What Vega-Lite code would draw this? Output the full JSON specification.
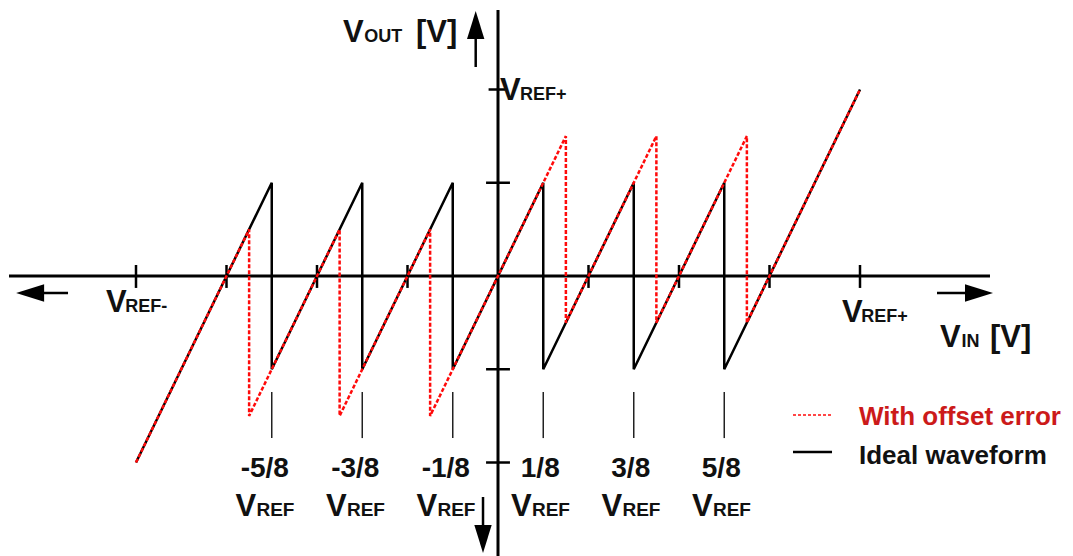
{
  "$schema": "https://vega.github.io/schema/vega-lite/v6.json",
  "width": 1073,
  "height": 556,
  "padding": 0,
  "autosize": {"type": "none"},
  "background": "white",
  "config": {
    "view": {"stroke": null},
    "text": {"font": "Liberation Sans", "fontWeight": "bold", "baseline": "alphabetic"}
  },
  "datasets": {
    "axes": [
      {"x": -1.3508, "x2": 1.3591, "y": 0, "y2": 0},
      {"x": 0, "x2": 0, "y": 1.4263, "y2": -1.52}
    ],
    "ticks": [
      {"x": -1, "x2": -1, "y": 0.059, "y2": -0.064},
      {"x": -0.75, "x2": -0.75, "y": 0.059, "y2": -0.064},
      {"x": -0.5, "x2": -0.5, "y": 0.059, "y2": -0.064},
      {"x": -0.25, "x2": -0.25, "y": 0.059, "y2": -0.064},
      {"x": 0.25, "x2": 0.25, "y": 0.059, "y2": -0.064},
      {"x": 0.5, "x2": 0.5, "y": 0.059, "y2": -0.064},
      {"x": 0.75, "x2": 0.75, "y": 0.059, "y2": -0.064},
      {"x": 1, "x2": 1, "y": 0.059, "y2": -0.064},
      {"x": -0.026, "x2": 0.02, "y": 1, "y2": 1},
      {"x": -0.033, "x2": 0.033, "y": 0.5, "y2": 0.5},
      {"x": -0.033, "x2": 0.033, "y": -0.5, "y2": -0.5},
      {"x": -0.033, "x2": 0.033, "y": -1, "y2": -1}
    ],
    "shafts": [
      {"x": -0.0616, "x2": -0.0616, "y": 1.29, "y2": 1.1206},
      {"x": -0.0414, "x2": -0.0414, "y": -1.185, "y2": -1.36},
      {"x": -1.275, "x2": -1.1878, "y": -0.0912, "y2": -0.0912},
      {"x": 1.2127, "x2": 1.30, "y": -0.0912, "y2": -0.0912}
    ],
    "heads": [
      {"x": -0.0616, "y": 1.3458, "dir": "up"},
      {"x": -0.0414, "y": -1.41, "dir": "down"},
      {"x": -1.2925, "y": -0.0912, "dir": "left"},
      {"x": 1.3287, "y": -0.0912, "dir": "right"}
    ],
    "wave": [
      {"s": "Ideal waveform", "i": 0, "x": -1, "y": -1},
      {"s": "Ideal waveform", "i": 1, "x": -0.625, "y": 0.5},
      {"s": "Ideal waveform", "i": 2, "x": -0.625, "y": -0.5},
      {"s": "Ideal waveform", "i": 3, "x": -0.375, "y": 0.5},
      {"s": "Ideal waveform", "i": 4, "x": -0.375, "y": -0.5},
      {"s": "Ideal waveform", "i": 5, "x": -0.125, "y": 0.5},
      {"s": "Ideal waveform", "i": 6, "x": -0.125, "y": -0.5},
      {"s": "Ideal waveform", "i": 7, "x": 0.125, "y": 0.5},
      {"s": "Ideal waveform", "i": 8, "x": 0.125, "y": -0.5},
      {"s": "Ideal waveform", "i": 9, "x": 0.375, "y": 0.5},
      {"s": "Ideal waveform", "i": 10, "x": 0.375, "y": -0.5},
      {"s": "Ideal waveform", "i": 11, "x": 0.625, "y": 0.5},
      {"s": "Ideal waveform", "i": 12, "x": 0.625, "y": -0.5},
      {"s": "Ideal waveform", "i": 13, "x": 1, "y": 1},
      {"s": "With offset error", "i": 0, "x": -1, "y": -1},
      {"s": "With offset error", "i": 1, "x": -0.6875, "y": 0.25},
      {"s": "With offset error", "i": 2, "x": -0.6875, "y": -0.75},
      {"s": "With offset error", "i": 3, "x": -0.4375, "y": 0.25},
      {"s": "With offset error", "i": 4, "x": -0.4375, "y": -0.75},
      {"s": "With offset error", "i": 5, "x": -0.1875, "y": 0.25},
      {"s": "With offset error", "i": 6, "x": -0.1875, "y": -0.75},
      {"s": "With offset error", "i": 7, "x": 0.1875, "y": 0.75},
      {"s": "With offset error", "i": 8, "x": 0.1875, "y": -0.25},
      {"s": "With offset error", "i": 9, "x": 0.4375, "y": 0.75},
      {"s": "With offset error", "i": 10, "x": 0.4375, "y": -0.25},
      {"s": "With offset error", "i": 11, "x": 0.6875, "y": 0.75},
      {"s": "With offset error", "i": 12, "x": 0.6875, "y": -0.25},
      {"s": "With offset error", "i": 13, "x": 1, "y": 1}
    ],
    "fracs": [
      {"x": -0.625, "lab": "-5/8"},
      {"x": -0.375, "lab": "-3/8"},
      {"x": -0.125, "lab": "-1/8"},
      {"x": 0.125, "lab": "1/8"},
      {"x": 0.375, "lab": "3/8"},
      {"x": 0.625, "lab": "5/8"}
    ],
    "bigText": [
      {"t": "V", "x": -0.4282, "y": 1.2547},
      {"t": "[V]", "x": -0.2265, "y": 1.2547},
      {"t": "V", "x": 0.0055, "y": 0.9437},
      {"t": "V", "x": -1.0829, "y": -0.193},
      {"t": "V", "x": 0.9503, "y": -0.2466},
      {"t": "V", "x": 1.221, "y": -0.3807},
      {"t": "[V]", "x": 1.3591, "y": -0.3807}
    ],
    "subText": [
      {"t": "OUT", "x": -0.3695, "y": 1.2547},
      {"t": "REF+", "x": 0.0605, "y": 0.9437},
      {"t": "REF-", "x": -1.0295, "y": -0.193},
      {"t": "REF+", "x": 1.0035, "y": -0.2466},
      {"t": "IN", "x": 1.2805, "y": -0.3807}
    ],
    "legend": [
      {"s": "With offset error", "x": 0.8149, "x2": 0.9227, "y": -0.7453, "tx": 0.9972},
      {"s": "Ideal waveform", "x": 0.8149, "x2": 0.9227, "y": -0.9437, "tx": 0.9972}
    ]
  },
  "layer": [
    {
      "data": {"name": "axes"},
      "mark": {"type": "rule", "color": "#000", "strokeWidth": 3},
      "encoding": {
        "x": {"field": "x", "type": "quantitative", "scale": {"domain": [-1.3757, 1.5884], "nice": false, "zero": false}, "axis": null},
        "x2": {"field": "x2"},
        "y": {"field": "y", "type": "quantitative", "scale": {"domain": [-1.5013, 1.4799], "nice": false, "zero": false}, "axis": null},
        "y2": {"field": "y2"}
      }
    },
    {
      "data": {"name": "ticks"},
      "mark": {"type": "rule", "color": "#000", "strokeWidth": 2.5},
      "encoding": {
        "x": {"field": "x", "type": "quantitative", "axis": null},
        "x2": {"field": "x2"},
        "y": {"field": "y", "type": "quantitative", "axis": null},
        "y2": {"field": "y2"}
      }
    },
    {
      "data": {"name": "shafts"},
      "mark": {"type": "rule", "color": "#000", "strokeWidth": 2.5},
      "encoding": {
        "x": {"field": "x", "type": "quantitative", "axis": null},
        "x2": {"field": "x2"},
        "y": {"field": "y", "type": "quantitative", "axis": null},
        "y2": {"field": "y2"}
      }
    },
    {
      "data": {"name": "heads"},
      "mark": {"type": "point", "filled": true, "color": "#000", "opacity": 1, "size": 784, "strokeWidth": 0},
      "encoding": {
        "x": {"field": "x", "type": "quantitative", "axis": null},
        "y": {"field": "y", "type": "quantitative", "axis": null},
        "shape": {
          "field": "dir", "type": "nominal", "legend": null,
          "scale": {
            "domain": ["up", "down", "left", "right"],
            "range": ["M0,-1L0.62,1L-0.62,1Z", "M0,1L0.62,-1L-0.62,-1Z", "M-1,0L1,-0.62L1,0.62Z", "M1,0L-1,-0.62L-1,0.62Z"]
          }
        }
      }
    },
    {
      "data": {"name": "fracs"},
      "mark": {"type": "rule", "color": "#222", "strokeWidth": 1.5},
      "encoding": {
        "x": {"field": "x", "type": "quantitative", "axis": null},
        "y": {"datum": -0.622, "type": "quantitative", "axis": null},
        "y2": {"datum": -0.869}
      }
    },
    {
      "data": {"name": "wave"},
      "transform": [{"filter": "datum.s === 'Ideal waveform'"}],
      "mark": {"type": "line", "strokeWidth": 2.5, "strokeJoin": "miter", "strokeCap": "butt"},
      "encoding": {
        "x": {"field": "x", "type": "quantitative", "axis": null},
        "y": {"field": "y", "type": "quantitative", "axis": null},
        "order": {"field": "i", "type": "quantitative"},
        "color": {"field": "s", "type": "nominal", "legend": null, "scale": {"domain": ["With offset error", "Ideal waveform"], "range": ["#ff0a0a", "#000000"]}}
      }
    },
    {
      "data": {"name": "wave"},
      "transform": [{"filter": "datum.s === 'With offset error'"}],
      "mark": {"type": "line", "strokeWidth": 2.5, "strokeDash": [4, 2], "strokeCap": "butt"},
      "encoding": {
        "x": {"field": "x", "type": "quantitative", "axis": null},
        "y": {"field": "y", "type": "quantitative", "axis": null},
        "order": {"field": "i", "type": "quantitative"},
        "color": {"field": "s", "type": "nominal", "legend": null}
      }
    },
    {
      "data": {"name": "legend"},
      "transform": [{"filter": "datum.s === 'With offset error'"}],
      "mark": {"type": "rule", "strokeWidth": 1.5, "strokeDash": [3, 2]},
      "encoding": {
        "x": {"field": "x", "type": "quantitative", "axis": null},
        "x2": {"field": "x2"},
        "y": {"field": "y", "type": "quantitative", "axis": null},
        "color": {"field": "s", "type": "nominal", "legend": null}
      }
    },
    {
      "data": {"name": "legend"},
      "transform": [{"filter": "datum.s === 'Ideal waveform'"}],
      "mark": {"type": "rule", "strokeWidth": 2.5},
      "encoding": {
        "x": {"field": "x", "type": "quantitative", "axis": null},
        "x2": {"field": "x2"},
        "y": {"field": "y", "type": "quantitative", "axis": null},
        "color": {"field": "s", "type": "nominal", "legend": null}
      }
    },
    {
      "data": {"name": "legend"},
      "transform": [{"filter": "datum.s === 'With offset error'"}],
      "mark": {"type": "text", "align": "left", "baseline": "middle", "fontSize": 26, "dy": 2, "color": "#cc1a1a"},
      "encoding": {
        "x": {"field": "tx", "type": "quantitative", "axis": null},
        "y": {"field": "y", "type": "quantitative", "axis": null},
        "text": {"field": "s"}
      }
    },
    {
      "data": {"name": "legend"},
      "transform": [{"filter": "datum.s === 'Ideal waveform'"}],
      "mark": {"type": "text", "align": "left", "baseline": "middle", "fontSize": 26, "dy": 4, "color": "#111"},
      "encoding": {
        "x": {"field": "tx", "type": "quantitative", "axis": null},
        "y": {"field": "y", "type": "quantitative", "axis": null},
        "text": {"field": "s"}
      }
    },
    {
      "data": {"name": "bigText"},
      "mark": {"type": "text", "align": "left", "fontSize": 31, "color": "#111"},
      "encoding": {
        "x": {"field": "x", "type": "quantitative", "axis": null},
        "y": {"field": "y", "type": "quantitative", "axis": null},
        "text": {"field": "t"}
      }
    },
    {
      "data": {"name": "subText"},
      "mark": {"type": "text", "align": "left", "fontSize": 18, "color": "#111"},
      "encoding": {
        "x": {"field": "x", "type": "quantitative", "axis": null},
        "y": {"field": "y", "type": "quantitative", "axis": null},
        "text": {"field": "t"}
      }
    },
    {
      "data": {"name": "fracs"},
      "transform": [{"filter": "datum.x < 0"}],
      "layer": [
        {
          "mark": {"type": "text", "align": "center", "fontSize": 28, "dx": -7, "color": "#111"},
          "encoding": {
            "x": {"field": "x", "type": "quantitative", "axis": null},
            "y": {"datum": -1.0777, "type": "quantitative", "axis": null},
            "text": {"field": "lab"}
          }
        },
        {
          "mark": {"type": "text", "align": "right", "fontSize": 31, "dx": -15.6, "color": "#111"},
          "encoding": {
            "x": {"field": "x", "type": "quantitative", "axis": null},
            "y": {"datum": -1.2869, "type": "quantitative", "axis": null},
            "text": {"value": "V"}
          }
        },
        {
          "mark": {"type": "text", "align": "left", "fontSize": 19, "dx": -15.3, "color": "#111"},
          "encoding": {
            "x": {"field": "x", "type": "quantitative", "axis": null},
            "y": {"datum": -1.2869, "type": "quantitative", "axis": null},
            "text": {"value": "REF"}
          }
        }
      ]
    },
    {
      "data": {"name": "fracs"},
      "transform": [{"filter": "datum.x > 0"}],
      "layer": [
        {
          "mark": {"type": "text", "align": "center", "fontSize": 28, "dx": -3, "color": "#111"},
          "encoding": {
            "x": {"field": "x", "type": "quantitative", "axis": null},
            "y": {"datum": -1.0777, "type": "quantitative", "axis": null},
            "text": {"field": "lab"}
          }
        },
        {
          "mark": {"type": "text", "align": "right", "fontSize": 31, "dx": -11.6, "color": "#111"},
          "encoding": {
            "x": {"field": "x", "type": "quantitative", "axis": null},
            "y": {"datum": -1.2869, "type": "quantitative", "axis": null},
            "text": {"value": "V"}
          }
        },
        {
          "mark": {"type": "text", "align": "left", "fontSize": 19, "dx": -11.3, "color": "#111"},
          "encoding": {
            "x": {"field": "x", "type": "quantitative", "axis": null},
            "y": {"datum": -1.2869, "type": "quantitative", "axis": null},
            "text": {"value": "REF"}
          }
        }
      ]
    }
  ]
}
